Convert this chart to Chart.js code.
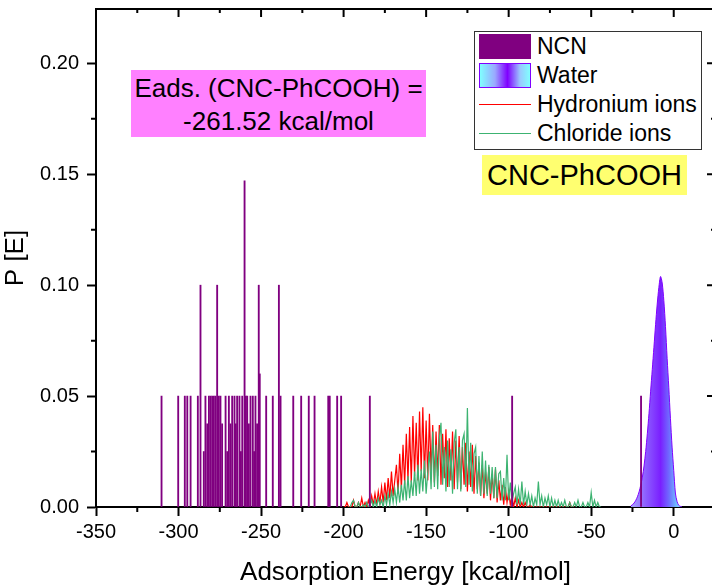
<!DOCTYPE html>
<html>
<head>
<meta charset="utf-8">
<script src="https://cdn.jsdelivr.net/npm/chart.js@4.4.1/dist/chart.umd.min.js"></script>
<style>
    body { margin: 0; overflow: hidden; background: #fff; font-family: 'Liberation Sans', Arial, sans-serif; }
    #wrap { position: relative; width: 720px; height: 588px; }
    #eads { position: absolute; left: 131px; top: 70px; width: 295px; height: 67px; box-sizing: border-box;
        padding-top: 2px; background: #ff80ff; color: #000; font-size: 26px; line-height: 33px; text-align: center; }
    #tag { position: absolute; left: 482px; top: 155px; width: 205px; height: 40px; background: #ffff70;
        color: #000; font-size: 29px; line-height: 41px; text-align: center; }
    #legend { position: absolute; left: 474px; top: 31px; width: 228px; height: 119px; box-sizing: border-box;
        border: 1px solid #333; background: #fff; }
    .row { display: flex; align-items: center; height: 29px; font-size: 23px; color: #000; }
    .sw { width: 52px; height: 25px; margin: 0 6px 0 4px; box-sizing: border-box; position: relative; }
</style>
</head>
<body>
<div id="wrap">
    <canvas id="grafico" width="720" height="588"></canvas>
    <div id="eads">Eads. (CNC-PhCOOH) =<br>-261.52 kcal/mol</div>
    <div id="legend"></div>
    <div id="tag">CNC-PhCOOH</div>
</div>
<script>
// NCN adsorption energies (kcal/mol) and probabilities
const ncnEnergy = [-310.3, -300.2, -296.2, -294.7, -292.7, -288.3, -286.7, -284.7, -283.7, -282.6,
    -281.6, -280.6, -279.6, -278.6, -277.6, -276.6, -275.6, -274.6, -273.6, -271.5,
    -270.5, -269.5, -268.5, -267.5, -266.1, -265.3, -264.5, -263.1, -262.2, -261.4,
    -260.0, -259.2, -258.4, -257.4, -256.4, -255.0, -254.2, -253.4, -252.4, -251.4,
    -250.8, -246.9, -242.9, -239.2, -238.2, -230.5, -225.7, -221.1, -217.6, -209.3,
    -208.4, -203.9, -201.5, -184.1, -97.9, -19.8];
const ncnProb = [0.05, 0.05, 0.05, 0.05, 0.05, 0.05, 0.10, 0.025, 0.05, 0.0375,
    0.05, 0.05, 0.05, 0.05, 0.05, 0.10, 0.05, 0.05, 0.0375, 0.05,
    0.025, 0.05, 0.0375, 0.05, 0.05, 0.0375, 0.05, 0.05, 0.025, 0.05,
    0.147, 0.05, 0.05, 0.0375, 0.05, 0.05, 0.025, 0.05, 0.0375, 0.10,
    0.06, 0.05, 0.05, 0.10, 0.05, 0.05, 0.05, 0.05, 0.05, 0.05,
    0.05, 0.05, 0.05, 0.05, 0.05, 0.05];

// Water
const waterEnergy = [-26, -25, -24, -23, -22, -21, -20, -19, -18, -17, -16, -15, -14, -13, -12, -11,
    -10, -9, -8, -7, -6, -5, -4, -3, -2, -1, 0, 1, 2, 3, 4, 5];
const waterProb = [0.0005, 0.0010, 0.0018, 0.0030, 0.0046, 0.0068, 0.0098, 0.0135, 0.0185, 0.0250,
    0.0330, 0.0420, 0.0522, 0.0620, 0.0720, 0.0822, 0.0915, 0.0990, 0.1039, 0.1010,
    0.0930, 0.0814, 0.0670, 0.0540, 0.0400, 0.0270, 0.0165, 0.0063, 0.0025, 0.0008, 0.0003, 0];

// Hydronium ions, 1 kcal/mol bins starting at -200
const hydroniumStart = -200;
const hydroniumProb = [
    0, 0, 0.002, 0, 0, 0, 0.003, 0, 0, 0.002,
    0, 0.004, 0, 0.002, 0, 0.003, 0, 0.005, 0.001, 0.006,
    0.001, 0.007, 0.002, 0.009, 0.002, 0.011, 0.003, 0.013, 0.004, 0.016,
    0.005, 0.012, 0.019, 0.006, 0.024, 0.008, 0.028, 0.010, 0.033, 0.012,
    0.036, 0.011, 0.041, 0.014, 0.038, 0.012, 0.043, 0.016, 0.045, 0.013,
    0.039, 0.012, 0.042, 0.015, 0.037, 0.011, 0.034, 0.014, 0.037, 0.010,
    0.033, 0.013, 0.035, 0.009, 0.031, 0.012, 0.034, 0.008, 0.030, 0.011,
    0.032, 0.008, 0.027, 0.010, 0.029, 0.007, 0.025, 0.009, 0.028, 0.006,
    0.023, 0.008, 0.020, 0.005, 0.019, 0.004, 0.016, 0.006, 0.018, 0.003,
    0.015, 0.004, 0.017, 0.002, 0.012, 0.003, 0.010, 0.001, 0.009, 0.002,
    0.007, 0.001, 0.005, 0, 0.004, 0, 0.003, 0, 0.002, 0,
    0.002, 0, 0, 0.001, 0, 0, 0, 0, 0, 0,
    0, 0, 0, 0, 0, 0, 0, 0, 0, 0,
    0, 0, 0, 0, 0, 0, 0, 0.002, 0, 0, 0];

// Chloride ions, 1 kcal/mol bins starting at -197
const chlorideStart = -197;
const chlorideProb = [
    0, 0, 0.002, 0.003, 0, 0, 0.002, 0, 0, 0.001,
    0, 0.002, 0, 0.001, 0.003, 0, 0.003, 0, 0.004, 0.001,
    0.003, 0, 0.005, 0.001, 0.006, 0.001, 0.007, 0.002, 0.008, 0.002,
    0.009, 0.002, 0.010, 0.003, 0.012, 0.003, 0.014, 0.004, 0.012, 0.005,
    0.016, 0.005, 0.019, 0.006, 0.017, 0.007, 0.021, 0.006, 0.016, 0.025,
    0.008, 0.034, 0.009, 0.028, 0.008, 0.031, 0.038, 0.010, 0.027, 0.007,
    0.030, 0.009, 0.026, 0.006, 0.029, 0.035, 0.008, 0.027, 0.007, 0.030,
    0.033, 0.009, 0.0446, 0.010, 0.029, 0.007, 0.024, 0.027, 0.006, 0.023,
    0.005, 0.025, 0.006, 0.021, 0.005, 0.019, 0.006, 0.018, 0.004, 0.018,
    0.004, 0.015, 0.016, 0.003, 0.013, 0.003, 0.0235, 0.003, 0.011, 0.002,
    0.006, 0.009, 0.001, 0.008, 0.001, 0.0115, 0.001, 0.007, 0.001, 0.006,
    0.001, 0.005, 0, 0.004, 0.001, 0.0115, 0.001, 0.005, 0, 0.004,
    0.001, 0.005, 0, 0.004, 0, 0.003, 0, 0.003, 0, 0.002,
    0, 0.003, 0, 0, 0.002, 0, 0, 0.002, 0, 0.003,
    0, 0, 0.002, 0, 0, 0.002, 0, 0.0065, 0, 0.003,
    0, 0.002, 0, 0];

const xMinorTicks = [-325, -275, -225, -175, -125, -75, -25];
const yMinorTicks = [0.025, 0.075, 0.125, 0.175];

const fuente = "'Liberation Sans', Arial, sans-serif";

function serie(start, valores) {
    return valores.map((v, i) => ({ x: start + i, y: v }));
}

function degradadoAgua(context) {
    const chart = context.chart;
    if (!chart.chartArea) return '#7a1fff';
    const x0 = chart.scales.x.getPixelForValue(waterEnergy[0]);
    const x1 = chart.scales.x.getPixelForValue(waterEnergy[waterEnergy.length - 1]);
    const g = chart.ctx.createLinearGradient(x0, 0, x1, 0);
    g.addColorStop(0, '#a8a8ff');
    g.addColorStop(0.3, '#8c5cff');
    g.addColorStop(0.58, '#7a1fff');
    g.addColorStop(0.75, '#6f6cff');
    g.addColorStop(0.88, '#6fb8ff');
    g.addColorStop(1, '#80e8ff');
    return g;
}

// marco superior/derecho y ticks menores
const marco = {
    id: 'marco',
    afterDraw(chart) {
        const { ctx, chartArea: a, scales: { x, y } } = chart;
        ctx.save();
        ctx.strokeStyle = '#000';
        ctx.lineWidth = 2;
        ctx.beginPath();
        ctx.moveTo(a.left, a.top);
        ctx.lineTo(a.right, a.top);
        ctx.lineTo(a.right, a.bottom);
        ctx.stroke();
        ctx.beginPath();
        x.ticks.forEach(t => {
            const px = x.getPixelForValue(t.value);
            ctx.moveTo(px, a.top); ctx.lineTo(px, a.top + 8);
        });
        xMinorTicks.forEach(v => {
            const px = x.getPixelForValue(v);
            ctx.moveTo(px, a.bottom); ctx.lineTo(px, a.bottom + 5);
            ctx.moveTo(px, a.top); ctx.lineTo(px, a.top + 4);
        });
        y.ticks.forEach(t => {
            const py = y.getPixelForValue(t.value);
            ctx.moveTo(a.right, py); ctx.lineTo(a.right - 8, py);
        });
        yMinorTicks.forEach(v => {
            const py = y.getPixelForValue(v);
            ctx.moveTo(a.left, py); ctx.lineTo(a.left - 5, py);
            ctx.moveTo(a.right, py); ctx.lineTo(a.right - 4, py);
        });
        ctx.stroke();
        ctx.restore();
    }
};

const ctx = document.getElementById('grafico').getContext('2d');
const chart = new Chart(ctx, {
    type: 'line',
    data: {
        datasets: [
            {
                type: 'bar',
                label: 'NCN',
                data: ncnEnergy.map((e, i) => ({ x: e, y: ncnProb[i] })),
                backgroundColor: '#800080',
                barThickness: 1.2,
                grouped: false,
                order: 0
            },
            {
                label: 'Water',
                data: waterEnergy.map((e, i) => ({ x: e, y: waterProb[i] })),
                borderColor: '#8000ff',
                borderWidth: 1,
                backgroundColor: degradadoAgua,
                fill: 'origin',
                pointRadius: 0,
                tension: 0.3,
                order: 3
            },
            {
                label: 'Hydronium ions',
                data: serie(hydroniumStart, hydroniumProb),
                borderColor: '#ff0000',
                borderWidth: 1.2,
                pointRadius: 0,
                fill: false,
                order: 2
            },
            {
                label: 'Chloride ions',
                data: serie(chlorideStart, chlorideProb),
                borderColor: '#3cb371',
                borderWidth: 1.2,
                pointRadius: 0,
                fill: false,
                order: 1
            }
        ]
    },
    options: {
        responsive: false,
        animation: false,
        layout: { padding: { top: 9, right: 5, left: 0, bottom: 0 } },
        plugins: { legend: { display: false }, tooltip: { enabled: false } },
        scales: {
            x: {
                type: 'linear',
                min: -350,
                max: 25,
                offset: false,
                ticks: { stepSize: 50, includeBounds: false, color: '#000', font: { family: fuente, size: 20 },
                    padding: 4, maxRotation: 0, autoSkip: false },
                grid: { drawOnChartArea: false, tickLength: 9, tickWidth: 2, tickColor: '#000', offset: false },
                border: { color: '#000', width: 2 },
                title: { display: true, text: 'Adsorption Energy [kcal/mol]', color: '#000',
                    font: { family: fuente, size: 26 }, padding: 0 },
                afterFit: s => { s.height = 81; s.paddingLeft = 0; s.paddingRight = 0; }
            },
            y: {
                min: 0,
                max: 0.2245,
                ticks: { stepSize: 0.05, includeBounds: false, color: '#000', font: { family: fuente, size: 20 },
                    padding: 8, callback: v => v.toFixed(2) },
                grid: { drawOnChartArea: false, tickLength: 9, tickWidth: 2, tickColor: '#000' },
                border: { color: '#000', width: 2 },
                title: { display: true, text: 'P [E]', color: '#000', font: { family: fuente, size: 26 }, padding: 0 },
                afterFit: s => { s.width = 96; s.paddingTop = 0; s.paddingBottom = 0; }
            }
        }
    },
    plugins: [marco]
});

// leyenda a partir de los datasets
const legend = document.getElementById('legend');
chart.data.datasets.forEach(ds => {
    const row = document.createElement('div');
    row.className = 'row';
    const sw = document.createElement('div');
    sw.className = 'sw';
    if (ds.type === 'bar') {
        sw.style.background = ds.backgroundColor;
    } else if (ds.fill) {
        sw.style.background = 'linear-gradient(to right, #80ffff 0%, #9aa8ff 30%, #8000ff 55%, #9ac8ff 80%, #80ffff 100%)';
        sw.style.border = '1px solid ' + ds.borderColor;
    } else {
        const line = document.createElement('div');
        line.style.cssText = 'position:absolute;left:0;right:0;top:12px;height:1px;background:' + ds.borderColor;
        sw.appendChild(line);
    }
    const txt = document.createElement('span');
    txt.textContent = ds.label;
    row.appendChild(sw);
    row.appendChild(txt);
    legend.appendChild(row);
});
</script>
</body>
</html>
